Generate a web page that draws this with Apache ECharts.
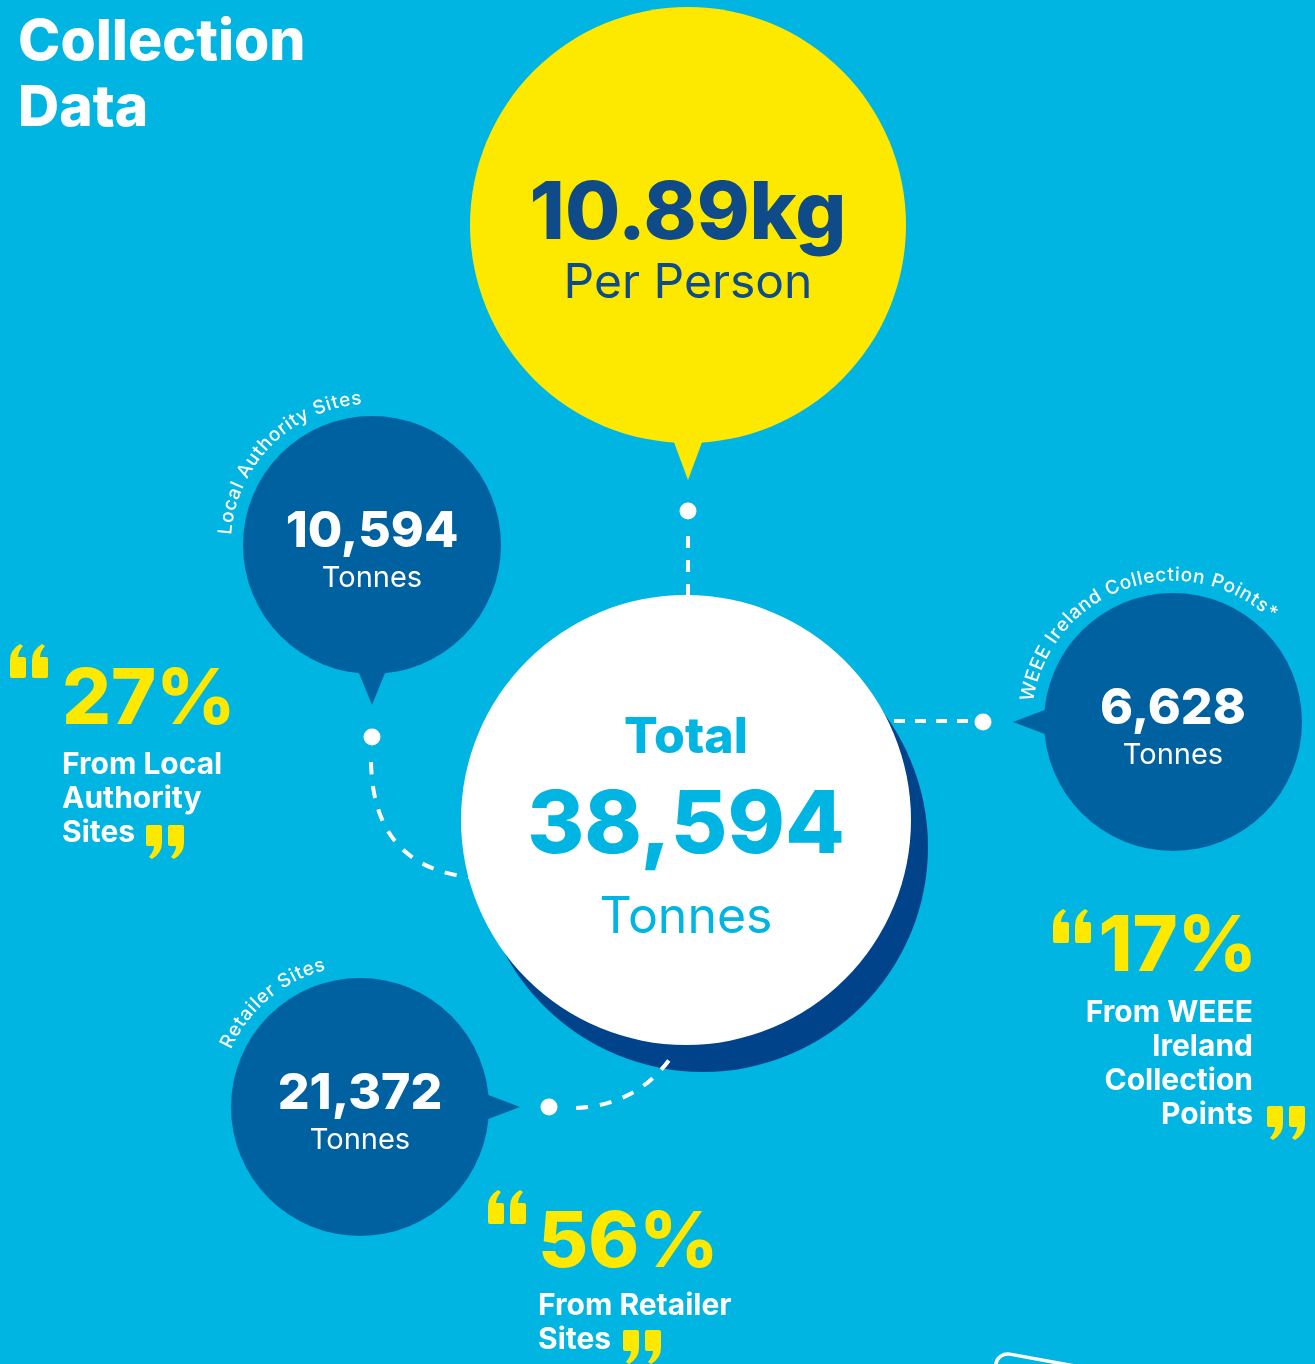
<!DOCTYPE html>
<html><head><meta charset="utf-8">
<script src="https://cdn.jsdelivr.net/npm/echarts@6/dist/echarts.min.js"></script>
<style>html,body{margin:0;padding:0;background:#00B5E2}#c{width:1315px;height:1364px}</style>
</head><body><div id="c"></div>
<script>
// ---------------- DATA ----------------
const titleLines = ['Collection', 'Data'];
const perPersonKg = 10.89;
const perPersonLabel = 'Per Person';
const totalLabel = 'Total';
const totalTonnes = 38594;
const unitLabel = 'Tonnes';
const sourceNames = ['Local Authority Sites', 'WEEE Ireland Collection Points*', 'Retailer Sites'];
const sourceTonnes = [10594, 6628, 21372];
const sourceShares = [27, 17, 56];
const shareCaptions = [
  ['From Local', 'Authority', 'Sites'],
  ['From WEEE', 'Ireland', 'Collection', 'Points'],
  ['From Retailer', 'Sites']
];

// ---------------- LAYOUT / STYLE ----------------
const W = 1315, H = 1364;
const C = { bg: '#00B5E2', yellow: '#FDE800', navy: '#0E4B88', bubble: '#0061A1', shadow: '#00438B', white: '#FFFFFF', cyan: '#00B5E2' };
const FONT = 'Inter, "Open Sans", sans-serif';
const yellowBubble = { x: 688, y: 225, r: 218, tailAngle: 90, tailLen: 255, tailHalf: 16, dot: [688, 511] };
const totalBubble = { x: 686, y: 820, r: 225, shadow: [703, 847] };
const srcLayout = [
  { x: 372, y: 545, r: 129, tailAngle: 90, tailLen: 160, tailHalf: 15, dot: [372, 737], arcMid: 135, quote: { x: 62, pctX: 62, pctY: 701, capY: 765, align: 'left', open: [10, 644], close: [146, 825] } },
  { x: 1173, y: 722, r: 129, tailAngle: 180, tailLen: 160, tailHalf: 14, dot: [983, 722], arcMid: 109, quote: { x: 1253, pctX: 1257, pctY: 948, capY: 1013, align: 'right', open: [1053, 909], close: [1267, 1106] } },
  { x: 360, y: 1107, r: 129, tailAngle: 0, tailLen: 160, tailHalf: 14, dot: [549, 1107], arcMid: 130, quote: { x: 538, pctX: 538, pctY: 1244, capY: 1306, align: 'left', open: [488, 1190], close: [623, 1330] } }
];
const arcTextR = 147;

const fmt = v => v.toLocaleString('en-US');

// ---------------- SERIES DATA ----------------
const shadowData = [{ value: totalBubble.shadow, symbolSize: totalBubble.r * 2 }];

const bubbleData = [];
bubbleData.push({
  value: [yellowBubble.x, yellowBubble.y], symbolSize: yellowBubble.r * 2,
  itemStyle: { color: C.yellow },
  label: {
    show: true, position: 'inside', offset: [0, 24],
    formatter: '{a|' + perPersonKg + 'kg}\n{b|' + perPersonLabel + '}',
    rich: {
      a: { fontFamily: FONT, fontWeight: 800, fontSize: 80, color: C.navy, lineHeight: 70, align: 'center' },
      b: { fontFamily: FONT, fontWeight: 400, fontSize: 48, color: C.navy, lineHeight: 68, align: 'center' }
    }
  }
});
bubbleData.push({
  value: [totalBubble.x, totalBubble.y], symbolSize: totalBubble.r * 2,
  itemStyle: { color: C.white },
  label: {
    show: true, position: 'inside', offset: [0, 9],
    formatter: '{t|' + totalLabel + '}\n{n|' + fmt(totalTonnes) + '}\n{u|' + unitLabel + '}',
    rich: {
      t: { fontFamily: FONT, fontWeight: 800, fontSize: 50, color: C.cyan, lineHeight: 84, align: 'center' },
      n: { fontFamily: FONT, fontWeight: 800, fontSize: 87, color: C.cyan, lineHeight: 94, align: 'center' },
      u: { fontFamily: FONT, fontWeight: 400, fontSize: 50, color: C.cyan, lineHeight: 88, align: 'center' }
    }
  }
});
srcLayout.forEach((L, i) => {
  bubbleData.push({
    value: [L.x, L.y], symbolSize: L.r * 2,
    itemStyle: { color: C.bubble },
    label: {
      show: true, position: 'inside', offset: [0, 8],
      formatter: '{a|' + fmt(sourceTonnes[i]) + '}\n{b|' + unitLabel + '}',
      rich: {
        a: { fontFamily: FONT, fontWeight: 800, fontSize: 50, color: C.white, lineHeight: 50, align: 'center' },
        b: { fontFamily: FONT, fontWeight: 400, fontSize: 29, color: C.white, lineHeight: 42, align: 'center' }
      }
    }
  });
});
const dotData = [yellowBubble.dot].concat(srcLayout.map(L => L.dot));

// quote marks as path symbols
const closeComma = 'path://M2,0 L14,0 Q16,0 16,2 L16,18 Q16,28 6,34 L3,32 Q8,26 8,21 L2,21 Q0,21 0,19 L0,2 Q0,0 2,0 Z';
const openComma = 'path://M14,34 L2,34 Q0,34 0,32 L0,16 Q0,6 10,0 L13,2 Q8,8 8,13 L14,13 Q16,13 16,15 L16,32 Q16,34 14,34 Z';
const quoteData = [];
srcLayout.forEach(L => {
  [0, 22].forEach(dx => {
    quoteData.push({ value: [L.quote.open[0] + dx + 8, L.quote.open[1] + 17], symbol: openComma });
    quoteData.push({ value: [L.quote.close[0] + dx + 8, L.quote.close[1] + 17], symbol: closeComma });
  });
});

// ---------------- GRAPHICS ----------------
const graphics = [];
function tail(b, color) {
  const a = b.tailAngle * Math.PI / 180;
  const ux = Math.cos(a), uy = Math.sin(a);
  const px = -uy, py = ux;
  const base = b.r - 6;
  const tip = [b.x + ux * b.tailLen, b.y + uy * b.tailLen];
  const b1 = [b.x + ux * base + px * b.tailHalf, b.y + uy * base + py * b.tailHalf];
  const b2 = [b.x + ux * base - px * b.tailHalf, b.y + uy * base - py * b.tailHalf];
  graphics.push({ type: 'polygon', z: 1, silent: true, shape: { points: [b1, tip, b2] }, style: { fill: color } });
}
tail(yellowBubble, C.yellow);
srcLayout.forEach(L => tail(L, C.bubble));

const dash = { stroke: C.white, lineWidth: 4, lineDash: [12, 12], fill: null };
graphics.push({ type: 'line', z: 1, silent: true, shape: { x1: 688, y1: 536, x2: 688, y2: 610 }, style: dash });
graphics.push({ type: 'bezierCurve', z: 1, silent: true, shape: { x1: 371, y1: 762, cpx1: 373, cpy1: 872, x2: 480, y2: 878 }, style: dash });
graphics.push({ type: 'line', z: 1, silent: true, shape: { x1: 894, y1: 721, x2: 968, y2: 721 }, style: Object.assign({}, dash, { lineDash: [11, 10] }) });
graphics.push({ type: 'bezierCurve', z: 100, silent: true, shape: { x1: 576, y1: 1108, cpx1: 640, cpy1: 1105, x2: 674, y2: 1053 }, style: dash });

titleLines.forEach((t, i) => {
  graphics.push({ type: 'text', z: 100, silent: true, x: 18, y: 43 + i * 66,
    style: { text: t, font: '800 57px ' + FONT, fill: C.white, align: 'left', verticalAlign: 'middle', textAlign: 'left', textVerticalAlign: 'middle' } });
});

const mctx = document.createElement('canvas').getContext('2d');
const arcFont = '500 19px ' + FONT;
mctx.font = arcFont;
sourceNames.forEach((name, i) => {
  const L = srcLayout[i];
  const spacing = 1.1;
  const chars = Array.from(name);
  const widths = chars.map(ch => mctx.measureText(ch).width + spacing);
  const total = widths.reduce((s, w) => s + w, 0);
  let theta = L.arcMid * Math.PI / 180 + (total / 2) / arcTextR;
  chars.forEach((ch, k) => {
    const mid = theta - (widths[k] / 2) / arcTextR;
    graphics.push({ type: 'text', z: 100, silent: true,
      x: L.x + arcTextR * Math.cos(mid), y: L.y - arcTextR * Math.sin(mid), rotation: mid - Math.PI / 2,
      style: { text: ch, font: arcFont, fill: C.white, align: 'center', verticalAlign: 'middle', textAlign: 'center', textVerticalAlign: 'middle' } });
    theta -= widths[k] / arcTextR;
  });
});

srcLayout.forEach((L, i) => {
  const q = L.quote;
  graphics.push({ type: 'text', z: 100, silent: true, x: q.pctX, y: q.pctY,
    style: { text: sourceShares[i] + '%', font: '800 77px ' + FONT, fill: C.yellow, align: q.align, verticalAlign: 'middle', textAlign: q.align, textVerticalAlign: 'middle' } });
  shareCaptions[i].forEach((line, k) => {
    graphics.push({ type: 'text', z: 100, silent: true, x: q.x, y: q.capY + k * 34,
      style: { text: line, font: '700 30px ' + FONT, fill: C.white, align: q.align, verticalAlign: 'middle', textAlign: q.align, textVerticalAlign: 'middle' } });
  });
});

graphics.push({ type: 'rect', z: 100, silent: true, x: 998, y: 1352, originX: 0, originY: 0, rotation: -0.18,
  shape: { x: 0, y: 0, width: 140, height: 90, r: 12 }, style: { fill: null, stroke: C.white, lineWidth: 3.5 } });

// ---------------- CHART ----------------
const chart = echarts.init(document.getElementById('c'), null, { renderer: 'canvas', width: W, height: H });
chart.setOption({
  backgroundColor: C.bg,
  animation: false,
  grid: { left: 0, right: 0, top: 0, bottom: 0 },
  xAxis: { type: 'value', min: 0, max: W, show: false },
  yAxis: { type: 'value', min: 0, max: H, inverse: true, show: false },
  graphic: { elements: graphics },
  series: [
    { type: 'scatter', z: 2, silent: true, symbol: 'circle', data: shadowData, itemStyle: { color: C.shadow, opacity: 1 } },
    { type: 'scatter', z: 3, silent: true, symbol: 'circle', data: bubbleData, itemStyle: { opacity: 1 } },
    { type: 'scatter', z: 4, silent: true, symbol: 'circle', symbolSize: 17, data: dotData, itemStyle: { color: C.white, opacity: 1 } },
    { type: 'scatter', z: 5, silent: true, symbolSize: [16, 34], data: quoteData, itemStyle: { color: C.yellow, opacity: 1 } }
  ]
});
</script>
</body></html>
